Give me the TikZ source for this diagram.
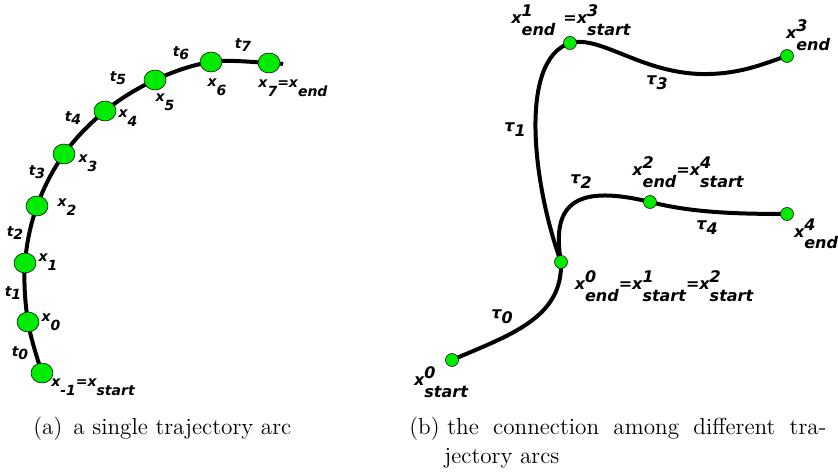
\documentclass[tikz,border=0pt]{standalone}
\usepackage{fontspec}
\usetikzlibrary{shapes.geometric,backgrounds,positioning}
\newfontfamily\lblfont{DejaVu Sans}
\definecolor{ptgreen}{RGB}{0,235,0}
\newcommand{\lsub}[2][-1.2ex]{\raisebox{#1}{#2}}
\newcommand{\lss}[2]{\makebox[0pt][l]{\raisebox{0.8ex}{#1}}\raisebox{-1.3ex}{#2}}

\begin{document}
\begin{tikzpicture}[x=0.75pt, y=-0.75pt,
        wpt/.style={ellipse, draw, thin, fill=ptgreen, minimum width=16.5pt, minimum height=15pt, inner sep=0pt},
        jpt/.style={circle, draw, thin, fill=ptgreen, minimum size=9.75pt, inner sep=0pt},
        lbl/.style={font=\lblfont\bfseries\itshape\fontsize{10.5}{12}\selectfont, inner sep=0pt},
        lblb/.style={font=\lblfont\bfseries\itshape\fontsize{12}{14}\selectfont, inner sep=0pt},
        traj/.style={draw, line width=3pt},
        captxt/.style={font=\fontsize{12}{14}\selectfont, scale=1.45, inner sep=0pt, anchor=base west}]

    \useasboundingbox (0,0) rectangle (838,473);

    % (a) single arc
    \node [wpt] (xm1) at (42,373) {};
    \node [wpt] (x0) at (28,322) {};
    \node [wpt] (x1) at (25,263) {};
    \node [wpt] (x2) at (37,206) {};
    \node [wpt] (x3) at (64,154) {};
    \node [wpt] (x4) at (105,111) {};
    \node [wpt] (x5) at (155,80) {};
    \node [wpt] (x6) at (211,62) {};
    \node [wpt] (x7) at (269,63) {};
    \coordinate (tail) at (283,64);

    \node [lbl] (t0) at (20,353) {t\lsub[-0.4ex]{0}};
    \node [lbl] (t1) at (13,293) {t\lsub[-0.4ex]{1}};
    \node [lbl] (t2) at (15,233) {t\lsub[-0.4ex]{2}};
    \node [lbl] (t3) at (37,172) {t\lsub[-0.4ex]{3}};
    \node [lbl] (t4) at (73,118) {t\lsub[-0.4ex]{4}};
    \node [lbl] (t5) at (118,78) {t\lsub[-0.4ex]{5}};
    \node [lbl] (t6) at (181,53) {t\lsub[-0.4ex]{6}};
    \node [lbl] (t7) at (243,45) {t\lsub[-0.4ex]{7}};

    \node [lbl] (lxm1) at (93,387) {x\lsub{-1}=x\lsub{start}};
    \node [lbl] (lx0) at (51,322) {x\lsub{0}};
    \node [lbl] (lx1) at (48,262) {x\lsub{1}};
    \node [lbl] (lx2) at (67,207) {x\lsub{2}};
    \node [lbl] (lx3) at (88,163) {x\lsub{3}};
    \node [lbl] (lx4) at (128,118) {x\lsub{4}};
    \node [lbl] (lx5) at (165,102) {x\lsub{5}};
    \node [lbl] (lx6) at (217,87) {x\lsub{6}};
    \node [lbl] (lx7) at (293,88) {x\lsub{7}=x\lsub{end}};

    % (b) connected arcs
    \node [jpt] (s0) at (452,360) {};
    \node [jpt] (e0) at (561,262) {};
    \node [jpt] (e1) at (570,43) {};
    \node [jpt] (e2) at (650,202) {};
    \node [jpt] (e3) at (787,56) {};
    \node [jpt] (e4) at (787,214) {};

    \node [lblb] (ls0) at (441,382) {x\lss{0}{start}};
    \node [lblb] (le0) at (664,286) {x\lss{0}{end}=x\lss{1}{start}=x\lss{2}{start}};
    \node [lblb] (le1) at (571,20) {x\lss{1}{end}\hspace{0.5em}=x\lss{3}{start}};
    \node [lblb] (le2) at (688,172) {x\lss{2}{end}=x\lss{4}{start}};
    \node [lblb] (le3) at (808,35) {x\lss{3}{end}};
    \node [lblb] (le4) at (816,234) {x\lss{4}{end}};

    \node [lblb] (tau0) at (502,317) {τ\lsub[-0.6ex]{0}};
    \node [lblb] (tau1) at (515,130) {τ\lsub[-0.6ex]{1}};
    \node [lblb] (tau2) at (581,182) {τ\lsub[-0.6ex]{2}};
    \node [lblb] (tau3) at (657,83) {τ\lsub[-0.6ex]{3}};
    \node [lblb] (tau4) at (707,228) {τ\lsub[-0.6ex]{4}};

    \begin{scope}[on background layer]
        \draw [traj] plot [smooth, tension=0.6] coordinates {(xm1.center) (x0.center) (x1.center) (x2.center) (x3.center) (x4.center) (x5.center) (x6.center) (x7.center) (tail)};
        \draw [traj] (s0.center) .. controls (510,335) and (563,318) .. (e0.center);
        \draw [traj] (e0.center) .. controls (533,185) and (518,60) .. (e1.center);
        \draw [traj] (e1.center) .. controls (600,35) and (640,72) .. (700,74) .. controls (740,75) and (765,63) .. (e3.center);
        \draw [traj] (e0.center) .. controls (550,200) and (580,185) .. (e2.center);
        \draw [traj] (e2.center) .. controls (690,212) and (730,214) .. (e4.center);
    \end{scope}

    % captions
    \node [captxt] (capa) at (33,434) {(a)};
    \node [captxt] (capat) at (73,434) {a single trajectory arc};
    \node [captxt] (capb) at (409,434) {(b)};
    \node [captxt] (capbt) at (447,434) {\makebox[196pt][s]{the connection among different tra-}};
    \node [captxt] (capbt2) at (444,463) {jectory arcs};
\end{tikzpicture}
\end{document}
